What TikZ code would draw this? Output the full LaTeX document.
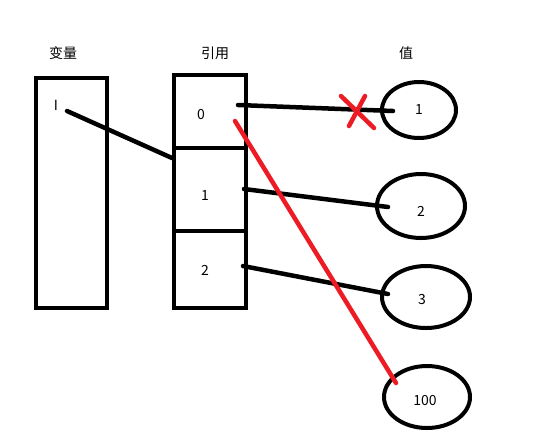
\documentclass[tikz,border=0pt]{standalone}
\usepackage{fontspec}
\setmainfont{Noto Sans CJK SC}
\usetikzlibrary{shapes.geometric}
\definecolor{paintred}{RGB}{237,28,36}
\begin{document}
\begin{tikzpicture}[x=1pt,y=-1pt,
  box/.style={draw=black,line width=4pt,inner sep=0pt,minimum width=#1},
  val/.style={draw=black,line width=4pt,ellipse,inner sep=0pt},
  lbl/.style={font=\fontsize{14}{16}\selectfont,inner sep=0pt},
  num/.style={font=\fontsize{14}{16}\selectfont,inner sep=0pt},
  link/.style={draw=black,line width=4.5pt,line cap=round},
  redlink/.style={draw=paintred,line width=4.5pt,line cap=round}]
\useasboundingbox (0,0) rectangle (534,440);
% titles
\node[lbl] (tvar) at (63,53) {变量};
\node[lbl] (tref) at (215,53) {引用};
\node[lbl] (tval) at (406,53) {值};
% variable box
\node[box=71pt,minimum height=230pt] (var) at (71,193) {};
\node[num] (vI) at (56,105) {I};
% reference cells
\node[box=72pt,minimum height=73pt] (r0) at (210,111.5) {};
\node[box=72pt,minimum height=83pt] (r1) at (210,189.5) {};
\node[box=72pt,minimum height=77pt] (r2) at (210,269.5) {};
\node[num] (n0) at (201,115) {0};
\node[num] (n1) at (205,196) {1};
\node[num] (n2) at (205,270) {2};
% values
\node[val,minimum width=74pt,minimum height=56pt] (v1) at (419,110) {};
\node[num] at (v1) {1};
\node[val,minimum width=88pt,minimum height=64pt] (v2) at (421,206) {};
\node[num] at (421,211) {2};
\node[val,minimum width=88pt,minimum height=62pt] (v3) at (426,297) {};
\node[num] at (422,299) {3};
\node[val,minimum width=86pt,minimum height=62pt] (v100) at (427,397) {};
\node[num] at (425,400) {100};
% connector end points
\coordinate (a0) at (67,111);
\coordinate (a1) at (172,158);
\coordinate (b0) at (238,105);
\coordinate (b1) at (393,111);
\coordinate (c0) at (244,189);
\coordinate (c1) at (388,207);
\coordinate (d0) at (243,266);
\coordinate (d1) at (388,294);
\coordinate (e0) at (235,121);
\coordinate (e1) at (396,383);
\coordinate (x1) at (341,96);
\coordinate (x2) at (374,128);
\coordinate (x3) at (365,96);
\coordinate (x4) at (349,126);
% connectors
\draw[link] (a0) -- (a1);
\draw[link] (b0) -- (b1);
\draw[link] (c0) -- (c1);
\draw[link] (d0) -- (d1);
\draw[redlink] (e0) -- (e1);
\draw[redlink] (x1) -- (x2);
\draw[redlink] (x3) -- (x4);
\end{tikzpicture}
\end{document}
